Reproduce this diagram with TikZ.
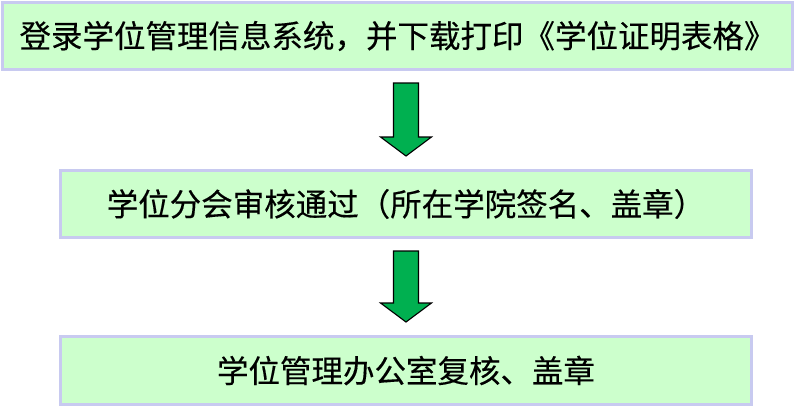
\documentclass[tikz,border=0pt]{standalone}
\usepackage{fontspec}
\setmainfont[FakeBold=0.3,AutoFakeBold=0.3]{Noto Sans CJK SC}
\usepackage[rgb]{xcolor}
\usepackage{tikz}
\usetikzlibrary{calc}

\definecolor{stepfill}{RGB}{204,255,204}
\definecolor{stepline}{RGB}{200,202,240}
\definecolor{arrowgreen}{RGB}{0,176,80}

% block arrow from the bottom of #1 to the top of #2
\newcommand{\blockarrow}[2]{%
  \path ($(#2.north |- #1.south)+(0,12)$) coordinate (#1-top)
        ($(#2.north)+(0,-13)$) coordinate (#1-tip);
  \draw[blockarr] ($(#1-top)+(-12.5,0)$) -- ($(#1-top)+(12.5,0)$)
    -- ($(#1-tip)+(12.5,-19)$) -- ($(#1-tip)+(25.5,-19)$) -- (#1-tip)
    -- ($(#1-tip)+(-25.5,-19)$) -- ($(#1-tip)+(-12.5,-19)$) -- cycle;}

\begin{document}
\begin{tikzpicture}[x=1pt,y=-1pt,
    stepbox/.style={draw=stepline,fill=stepfill,line width=3pt,
      minimum height=67pt,inner sep=0pt,font=\fontsize{31.5}{36}\selectfont},
    blockarr/.style={draw=black,fill=arrowgreen,line width=1.1pt,line join=miter}]
    \useasboundingbox (0,0) rectangle (796,407);
    \node[stepbox,minimum width=790pt] (login) at (397.5,36)
      {登录学位管理信息系统，并下载打印《学位证明表格》};
    \node[stepbox,minimum width=691pt] (review) at (406,204)
      {学位分会审核通过（所在学院签名、盖章）};
    \node[stepbox,minimum width=691pt,minimum height=68pt] (recheck) at (406,370.5)
      {学位管理办公室复核、盖章};
    \blockarrow{login}{review}
    \blockarrow{review}{recheck}
\end{tikzpicture}
\end{document}
